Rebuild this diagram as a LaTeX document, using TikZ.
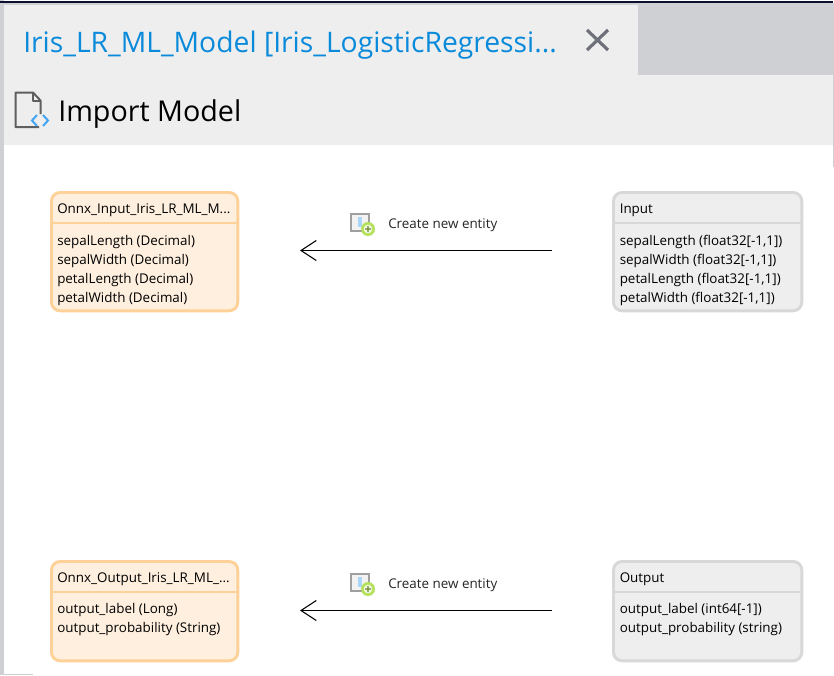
\documentclass[tikz,border=0pt]{standalone}
\usepackage{fontspec}
\setmainfont{Open Sans}
\usetikzlibrary{arrows.meta}
\definecolor{barG}{HTML}{CFD0D4}
\definecolor{panelG}{HTML}{EEEEEE}
\definecolor{topD}{HTML}{0B1030}
\definecolor{tabB}{HTML}{0A8ADB}
\definecolor{closeG}{HTML}{6E7179}
\definecolor{orS}{HTML}{FDD198}
\definecolor{orF}{HTML}{FEEFDE}
\definecolor{grS}{HTML}{D8D8D8}
\definecolor{iconG}{HTML}{5F5F5F}
\definecolor{iconB}{HTML}{45A5F2}
\definecolor{plusG}{HTML}{B4E05A}
\tikzset{
  x=0.75pt,y=-0.75pt,
  entity/.style={rounded corners=6.5pt,line width=2.2pt,inner sep=0pt,anchor=north west},
  orbox/.style={entity,draw=orS,fill=orF,minimum width=139.75pt},
  grbox/.style={entity,draw=grS,fill=panelG,minimum width=141.25pt},
  label/.style={anchor=base west,inner sep=0pt,font=\fontsize{10.05pt}{12pt}\selectfont,text=black},
  note/.style={anchor=base west,inner sep=0pt,font=\fontsize{10.05pt}{12pt}\selectfont,text=black!85},
  link/.style={draw=black,line width=0.95pt,-{Straight Barb[length=11.5pt,width=15pt,line width=0.8pt]}},
}
\newcommand{\addicon}[2]{%
  \fill[white!90!gray,draw=gray!75,line width=1.3pt] (#1,#2) rectangle ++(18,17);
  \fill[iconB!45] (#1+7,#2+3) rectangle ++(4,10);
  \fill[plusG] (#1+17,#2+15) circle[radius=7];
  \fill[white!80!plusG] (#1+17,#2+15) circle[radius=4.4];
  \fill[black!40!plusG] (#1+14,#2+14.3) rectangle ++(6,1.4) (#1+16.3,#2+12) rectangle ++(1.4,6);
}
\begin{document}
\begin{tikzpicture}
\useasboundingbox (0,0) rectangle (834,675);
\fill[white] (0,0) rectangle (834,675);
% chrome
\fill[barG] (0,0) rectangle (4,675);
\fill[barG] (638,3) rectangle (833,75);
\fill[barG] (0,3) rectangle (638,5);
\fill[panelG] (4,5) rectangle (638,75);
\fill[panelG] (4,75) rectangle (833,145);
\fill[topD] (0,0.8) rectangle (833,3);
\fill[barG] (833,3) rectangle (834,167);
\fill[barG] (4,674) rectangle (33,675);
% tab title
\node[anchor=base west,inner sep=0pt,text=tabB] (tabtitle) at (23,52) {\resizebox{400.25pt}{!}{Iris\_LR\_ML\_Model [Iris\_LogisticRegressi...}};
\draw[closeG,line width=2.4pt] (587,30) -- (608,50) (608,30) -- (587,50);
% heading
\node[anchor=base west,inner sep=0pt,text=black] (heading) at (58,121) {\resizebox{137.25pt}{!}{Import Model}};
% document icon
\draw[iconG,line width=1.5pt,line join=round] (39,127) -- (15.5,127) -- (15.5,92.5) -- (33,92.5) -- (40.5,100.5) -- (40.5,114);
\draw[iconG,line width=1.5pt,line join=round] (33,92.5) -- (33,100.5) -- (40.5,100.5);
\draw[iconB,line width=1.5pt] (37,115) -- (32,120.5) -- (37,126) (43,115) -- (48,120.5) -- (43,126);
% boxes
\node[orbox,minimum height=88.75pt] (inL) at (50,191) {};
\node[grbox,minimum height=88.75pt] (inR) at (612,191) {};
\node[orbox,minimum height=74.5pt] (outL) at (50,560) {};
\node[grbox,minimum height=74.5pt] (outR) at (612,560) {};
\draw[orS,line width=2.2pt] (51,223) -- (238,223);
\draw[grS,line width=2.2pt] (613,223) -- (802,223);
\draw[orS,line width=2.2pt] (51,592) -- (238,592);
\draw[grS,line width=2.2pt] (613,592) -- (802,592);
% texts
\node[label] (a0) at (57,213) {Onnx\_Input\_Iris\_LR\_ML\_M...};
\node[label] (a1) at (57,245) {sepalLength (Decimal)};
\node[label] (a2) at (57,264) {sepalWidth (Decimal)};
\node[label] (a3) at (57,283) {petalLength (Decimal)};
\node[label] (a4) at (57,302) {petalWidth (Decimal)};
\node[label] (b0) at (619.5,213) {Input};
\node[label] (b1) at (619.5,245) {sepalLength (float32[-1,1])};
\node[label] (b2) at (619.5,264) {sepalWidth (float32[-1,1])};
\node[label] (b3) at (619.5,283) {petalLength (float32[-1,1])};
\node[label] (b4) at (619.5,302) {petalWidth (float32[-1,1])};
\node[label] (c0) at (57,582) {Onnx\_Output\_Iris\_LR\_ML\_...};
\node[label] (c1) at (57,613) {output\_label (Long)};
\node[label] (c2) at (57,632) {output\_probability (String)};
\node[label] (d0) at (619.5,582) {Output};
\node[label] (d1) at (619.5,613) {output\_label (int64[-1])};
\node[label] (d2) at (619.5,632) {output\_probability (string)};
% connectors
\coordinate (s1) at (552,250.5);
\coordinate (e1) at (300,250.5);
\coordinate (s2) at (552,610.5);
\coordinate (e2) at (300,610.5);
\draw[link] (s1) -- (e1);
\draw[link] (s2) -- (e2);
\addicon{351}{214}
\addicon{351}{574}
\node[note] (n1) at (388,228) {Create new entity};
\node[note] (n2) at (388,588) {Create new entity};
\end{tikzpicture}
\end{document}
